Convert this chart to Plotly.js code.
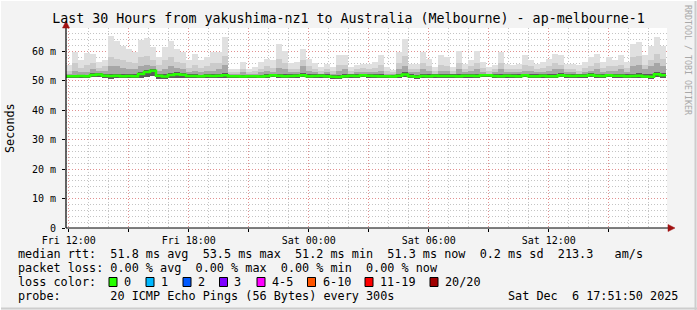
<!DOCTYPE html>
<html>
<head>
<meta charset="utf-8">
<script src="https://cdn.plot.ly/plotly-3.0.1.min.js"></script>
<style>
html,body{margin:0;padding:0;background:#f3f3f3;}
#chart{width:697px;height:310px;}
</style>
</head>
<body>
<div id="chart"></div>
<script>
// ---- data, 18-minute steps starting Fri 11:51:50 ----
const pingMax = [55.5,60,57,59.4,59,56.4,57,65.4,63.7,62,
  61,60,64,64.5,61.5,58,61.5,63.7,61,60,
  57,59,57,58,59.8,60,65,54,54,56.5,
  54,54.7,56.4,57.5,57,62.6,60.3,56,56.4,61,
  57.5,56,54.7,55.8,54.7,58.7,58.7,54.7,55.3,55.8,
  55.8,56.4,58.7,54.7,53.6,59.8,64.3,55.8,55.8,59.8,
  57.5,54.7,58.7,58,54.7,60.3,55.8,57,60.3,56.4,
  54.7,55.3,59.8,55.8,55.3,55.8,58.7,57,55.8,56.4,
  57.5,59.2,58.7,55.8,55.8,55.3,56.4,58,59.2,56.4,
  58,57,58.7,56.4,62.6,63.1,58.7,62,64.8,62];
const pingUpper = [53.5,56,54.5,55.5,56,54.5,55,58,57.5,57,
  56.5,56,58,58.5,57,55.5,57,58,56.5,56,
  54.5,55.5,54.5,55,56,56,58.5,53,53,54,
  53,53.5,54,55,54.5,57.5,56,54,54,57,
  55,54,53.5,54,53.5,55.5,55.5,53.5,54,54.5,
  54,54.5,55.5,53.5,53,56,58.5,54,54,56,
  55,53.5,55.5,55,53.5,56,54,55,56,54.5,
  53.5,54,56,54,54,54,55.5,55,54,54.5,
  55,56,55.5,54,54,53.5,54.5,55,56,54.5,
  55,55,55.5,54.5,58,58.5,55.5,57,59,57.5];
const pingInner = [52.5,53.5,53,53,54,53.5,53.5,55,55,54.5,
  54,54,55,55.5,55,53.5,54,55,54.5,54,
  53,53.5,53,53.5,53.5,54,55.5,52.5,52.5,53,
  52.5,52.5,53,53.5,53,54.5,54,53,53,55,
  53.5,53,52.5,53,52.5,53.5,54,52.5,53,53,
  53,53,53.5,52.5,52.5,54,55,53,53,54,
  53.5,52.5,53.5,53.5,52.5,54,53,53.5,54,53,
  52.5,53,54,53,53,53,53.5,53.5,53,53,
  53.5,54,54,53,53,52.5,53,53.5,54,53,
  53.5,53.5,54,53,55,55.5,54,55,56,55];
const pingCore = [52.0,52.1,52.1,52.0,52.6,52.8,52.3,52.4,52.5,52.2,
  52.3,52.2,53.1,53.7,54.2,52.4,52.2,52.7,52.9,52.7,
  52.2,52.3,52.1,52.4,52.3,52.5,52.6,52.1,52.1,52.1,
  52.1,52.1,52.1,52.3,52.4,52.5,52.3,52.2,52.3,52.6,
  52.2,52.2,52.3,52.2,52.0,52.0,52.3,52.3,52.2,52.4,
  52.3,52.3,52.3,52.1,52.0,52.5,53.0,52.2,52.0,52.4,
  52.2,52.3,52.3,52.3,52.2,52.3,52.3,52.4,52.4,52.5,
  52.4,52.2,52.3,52.3,52.2,52.2,52.5,52.2,52.2,52.4,
  52.2,52.3,52.6,52.4,52.3,52.3,52.4,52.6,52.5,52.3,
  52.5,52.4,52.5,52.2,52.5,52.6,52.2,52.2,53.1,52.6];
const pingMin = [51.1,51.0,51.1,51.0,51.2,51.3,51.0,50.8,50.9,50.9,
  50.9,51.0,51.0,51.3,51.6,50.8,50.6,50.9,51.0,51.0,
  51.0,51.1,51.0,51.1,51.0,50.9,50.9,51.1,51.1,51.0,
  51.1,51.1,51.0,51.1,51.2,51.0,51.0,51.1,51.1,51.2,
  51.0,51.1,51.1,51.0,50.8,50.7,51.0,51.1,51.0,51.2,
  51.1,51.1,51.0,51.0,50.9,51.0,51.2,51.0,50.8,51.0,
  51.0,51.1,51.1,51.1,51.1,51.0,51.1,51.1,51.0,51.2,
  51.2,51.1,51.0,51.1,51.1,51.0,51.2,51.0,51.0,51.1,
  51.0,51.0,51.2,51.1,51.1,51.1,51.1,51.3,51.1,51.0,
  51.2,51.1,51.1,51.0,51.0,51.1,50.9,50.7,51.4,51.1];
const medianRtt = [51.6,51.6,51.7,51.6,52.0,52.2,51.8,51.7,51.8,51.6,
  51.7,51.6,52.4,53.0,53.5,51.8,51.5,52.0,52.3,52.1,
  51.7,51.7,51.6,51.8,51.7,51.8,51.9,51.6,51.6,51.5,
  51.6,51.6,51.5,51.7,51.9,51.8,51.6,51.7,51.8,51.9,
  51.6,51.7,51.8,51.6,51.4,51.3,51.6,51.8,51.7,51.9,
  51.8,51.7,51.6,51.6,51.5,51.8,52.2,51.6,51.4,51.7,
  51.6,51.8,51.7,51.7,51.7,51.6,51.8,51.8,51.7,51.9,
  51.9,51.7,51.6,51.8,51.7,51.6,51.9,51.6,51.6,51.8,
  51.6,51.6,51.9,51.8,51.7,51.8,51.8,52.0,51.8,51.7,
  51.9,51.8,51.8,51.6,51.7,51.8,51.5,51.4,52.3,51.9];

const yTickVals = [0,10,20,30,40,50,60];
const yTickText = ['0','10 m','20 m','30 m','40 m','50 m','60 m'];
const xTickText = ['Fri 12:00','','Fri 18:00','','Sat 00:00','','Sat 06:00','','Sat 12:00',''];

const titleText = 'Last 30 Hours from yakushima-nz1 to Australia (Melbourne) - ap-melbourne-1';
const legendLines = [
  'median rtt:  51.8 ms avg  53.5 ms max  51.2 ms min  51.3 ms now  0.2 ms sd  213.3   am/s',
  'packet loss: 0.00 % avg  0.00 % max  0.00 % min  0.00 % now',
  'loss color:',
  'probe:       20 ICMP Echo Pings (56 Bytes) every 300s'
];
const dateText = 'Sat Dec  6 17:51:50 2025';
const lossLabels = ['0','1','2','3','4-5','6-10','11-19','20/20'];
const lossColors = ['#26ff00','#00b8ff','#0059ff','#7e00ff','#ff00ff','#ff5500','#ff0000','#a00000'];

// ---- geometry ----
const HOUR = 3600000;
const STEP = 18*60000;
const tStart = Date.UTC(2025,11,5,11,51,50);
const L = 66, T = 28, W = 601, H = 200;
const px = v => (v - L)/W;
const py = v => (228 - v)/H;

const centers = pingMax.map((_,i)=> tStart + (i+0.5)*STEP);
const edges = medianRtt.map((_,i)=> tStart + i*STEP);
edges.push(tStart + medianRtt.length*STEP);
const medLine = medianRtt.concat([medianRtt[medianRtt.length-1]]);

function layer(top, color){
  return {type:'bar', x:centers, base:pingMin, y: top.map((v,i)=>v-pingMin[i]),
    width:STEP, marker:{color:color, line:{width:0}}, hoverinfo:'skip', showlegend:false};
}
const traces = [
  layer(pingMax,'#e0e0e0'),
  layer(pingUpper,'#cbcbcb'),
  layer(pingInner,'#a6a6a6'),
  layer(pingCore,'#5a5a5a'),
  {type:'scatter', mode:'lines', x:edges, y:medLine, line:{shape:'hv', color:'#26ff00', width:2.5},
   hoverinfo:'skip', showlegend:false}
];

const xTickVals = xTickText.map((_,k)=> Date.UTC(2025,11,5,12) + k*3*HOUR);
const mono = 'DejaVu Sans Mono, monospace';

const annotations = [];
const legendYs = [254,268,282,296];
legendLines.forEach((t,i)=>{
  annotations.push({xref:'paper',yref:'paper',x:px(16),y:py(legendYs[i]),xanchor:'left',yanchor:'middle',
    text:t.replace(/ /g,'&nbsp;'),showarrow:false,font:{family:mono,size:11.8,color:'#000'}});
});
annotations.push({xref:'paper',yref:'paper',x:px(680),y:py(296),xanchor:'right',yanchor:'middle',
  text:dateText.replace(/ /g,'&nbsp;'),showarrow:false,font:{family:mono,size:11.8,color:'#000'}});
annotations.push({xref:'paper',yref:'paper',x:px(10),y:py(128),xanchor:'center',yanchor:'middle',
  text:'Seconds',textangle:-90,showarrow:false,font:{family:mono,size:11.8,color:'#000'}});
annotations.push({xref:'paper',yref:'paper',x:px(688),y:py(60),xanchor:'center',yanchor:'middle',
  text:'RRDTOOL / TOBI OETIKER',textangle:90,showarrow:false,font:{family:mono,size:8.3,color:'#a8a8a8'}});

const boxX = [109,146,183,219.5,257,307.5,365,430];
const shapes = [];
lossLabels.forEach((lab,i)=>{
  shapes.push({type:'rect',xref:'paper',yref:'paper',x0:px(boxX[i]),x1:px(boxX[i]+8),
    y0:py(286.5),y1:py(277.5),fillcolor:lossColors[i],line:{color:'#000',width:1}});
  annotations.push({xref:'paper',yref:'paper',x:px(boxX[i]+13),y:py(282),xanchor:'left',yanchor:'middle',
    text:lab,showarrow:false,font:{family:mono,size:11.8,color:'#000'}});
});
// axes with arrows
shapes.push({type:'line',xref:'paper',yref:'paper',x0:0,x1:px(670),y0:0,y1:0,line:{color:'#000',width:1.2}});
shapes.push({type:'path',xref:'paper',yref:'paper',
  path:`M ${px(668)} ${py(224.5)} L ${px(675)} ${py(228)} L ${px(668)} ${py(231.5)} Z`,
  fillcolor:'#a01010',line:{color:'#a01010',width:0.5}});
shapes.push({type:'line',xref:'paper',yref:'paper',x0:0,x1:0,y0:0,y1:py(26),line:{color:'#000',width:1.2}});
shapes.push({type:'path',xref:'paper',yref:'paper',
  path:`M ${px(62.5)} ${py(28)} L ${px(66)} ${py(21)} L ${px(69.5)} ${py(28)} Z`,
  fillcolor:'#a01010',line:{color:'#a01010',width:0.5}});
// frame
shapes.push({type:'line',xref:'paper',yref:'paper',x0:px(695.5),x1:px(695.5),y0:py(0),y1:py(310),line:{color:'#cdcdcd',width:2}});
shapes.push({type:'line',xref:'paper',yref:'paper',x0:px(0),x1:px(697),y0:py(308.5),y1:py(308.5),line:{color:'#cdcdcd',width:2}});
shapes.push({type:'line',xref:'paper',yref:'paper',x0:px(0.5),x1:px(0.5),y0:py(0),y1:py(310),line:{color:'#ffffff',width:1}});
shapes.push({type:'line',xref:'paper',yref:'paper',x0:px(0),x1:px(697),y0:py(0.5),y1:py(0.5),line:{color:'#ffffff',width:1}});

const majorGrid = 'rgba(245,110,110,0.6)';
const minorGrid = '#c4c4c4';
const dotDash = '1px,2px';

const layout = {
  width:697, height:310,
  margin:{l:L, r:697-L-W, t:T, b:310-228},
  paper_bgcolor:'#f3f3f3', plot_bgcolor:'#ffffff',
  barmode:'overlay', bargap:0,
  showlegend:false,
  title:{text:titleText, xref:'container', x:0.5, xanchor:'center', yref:'container', y:1-18/310, yanchor:'middle',
    font:{family:mono, size:13.3, color:'#000'}},
  xaxis:{type:'date', range:[tStart, tStart + W/20*HOUR], fixedrange:true,
    tickmode:'array', tickvals:xTickVals, ticktext:xTickText,
    ticks:'outside', ticklen:3, tickcolor:'#000', tickfont:{family:mono,size:10,color:'#000'},
    showgrid:true, gridcolor:majorGrid, griddash:dotDash, gridwidth:1,
    minor:{tickmode:'linear', tick0:'2025-12-05 12:00:00', dtick:HOUR, showgrid:true, gridcolor:minorGrid, griddash:dotDash, gridwidth:1, ticks:''},
    showline:false, zeroline:false},
  yaxis:{range:[0,68], fixedrange:true, tickmode:'array', tickvals:yTickVals, ticktext:yTickText,
    ticks:'outside', ticklen:3, tickcolor:'#000', ticklabelstandoff:4, tickfont:{family:mono,size:10,color:'#000'},
    showgrid:true, gridcolor:majorGrid, griddash:dotDash, gridwidth:1,
    minor:{tickmode:'linear', tick0:0, dtick:2, showgrid:true, gridcolor:minorGrid, griddash:dotDash, gridwidth:1, ticks:''},
    showline:false, zeroline:false},
  annotations:annotations,
  shapes:shapes
};
Plotly.newPlot('chart', traces, layout, {staticPlot:true, displayModeBar:false});
</script>
</body>
</html>
